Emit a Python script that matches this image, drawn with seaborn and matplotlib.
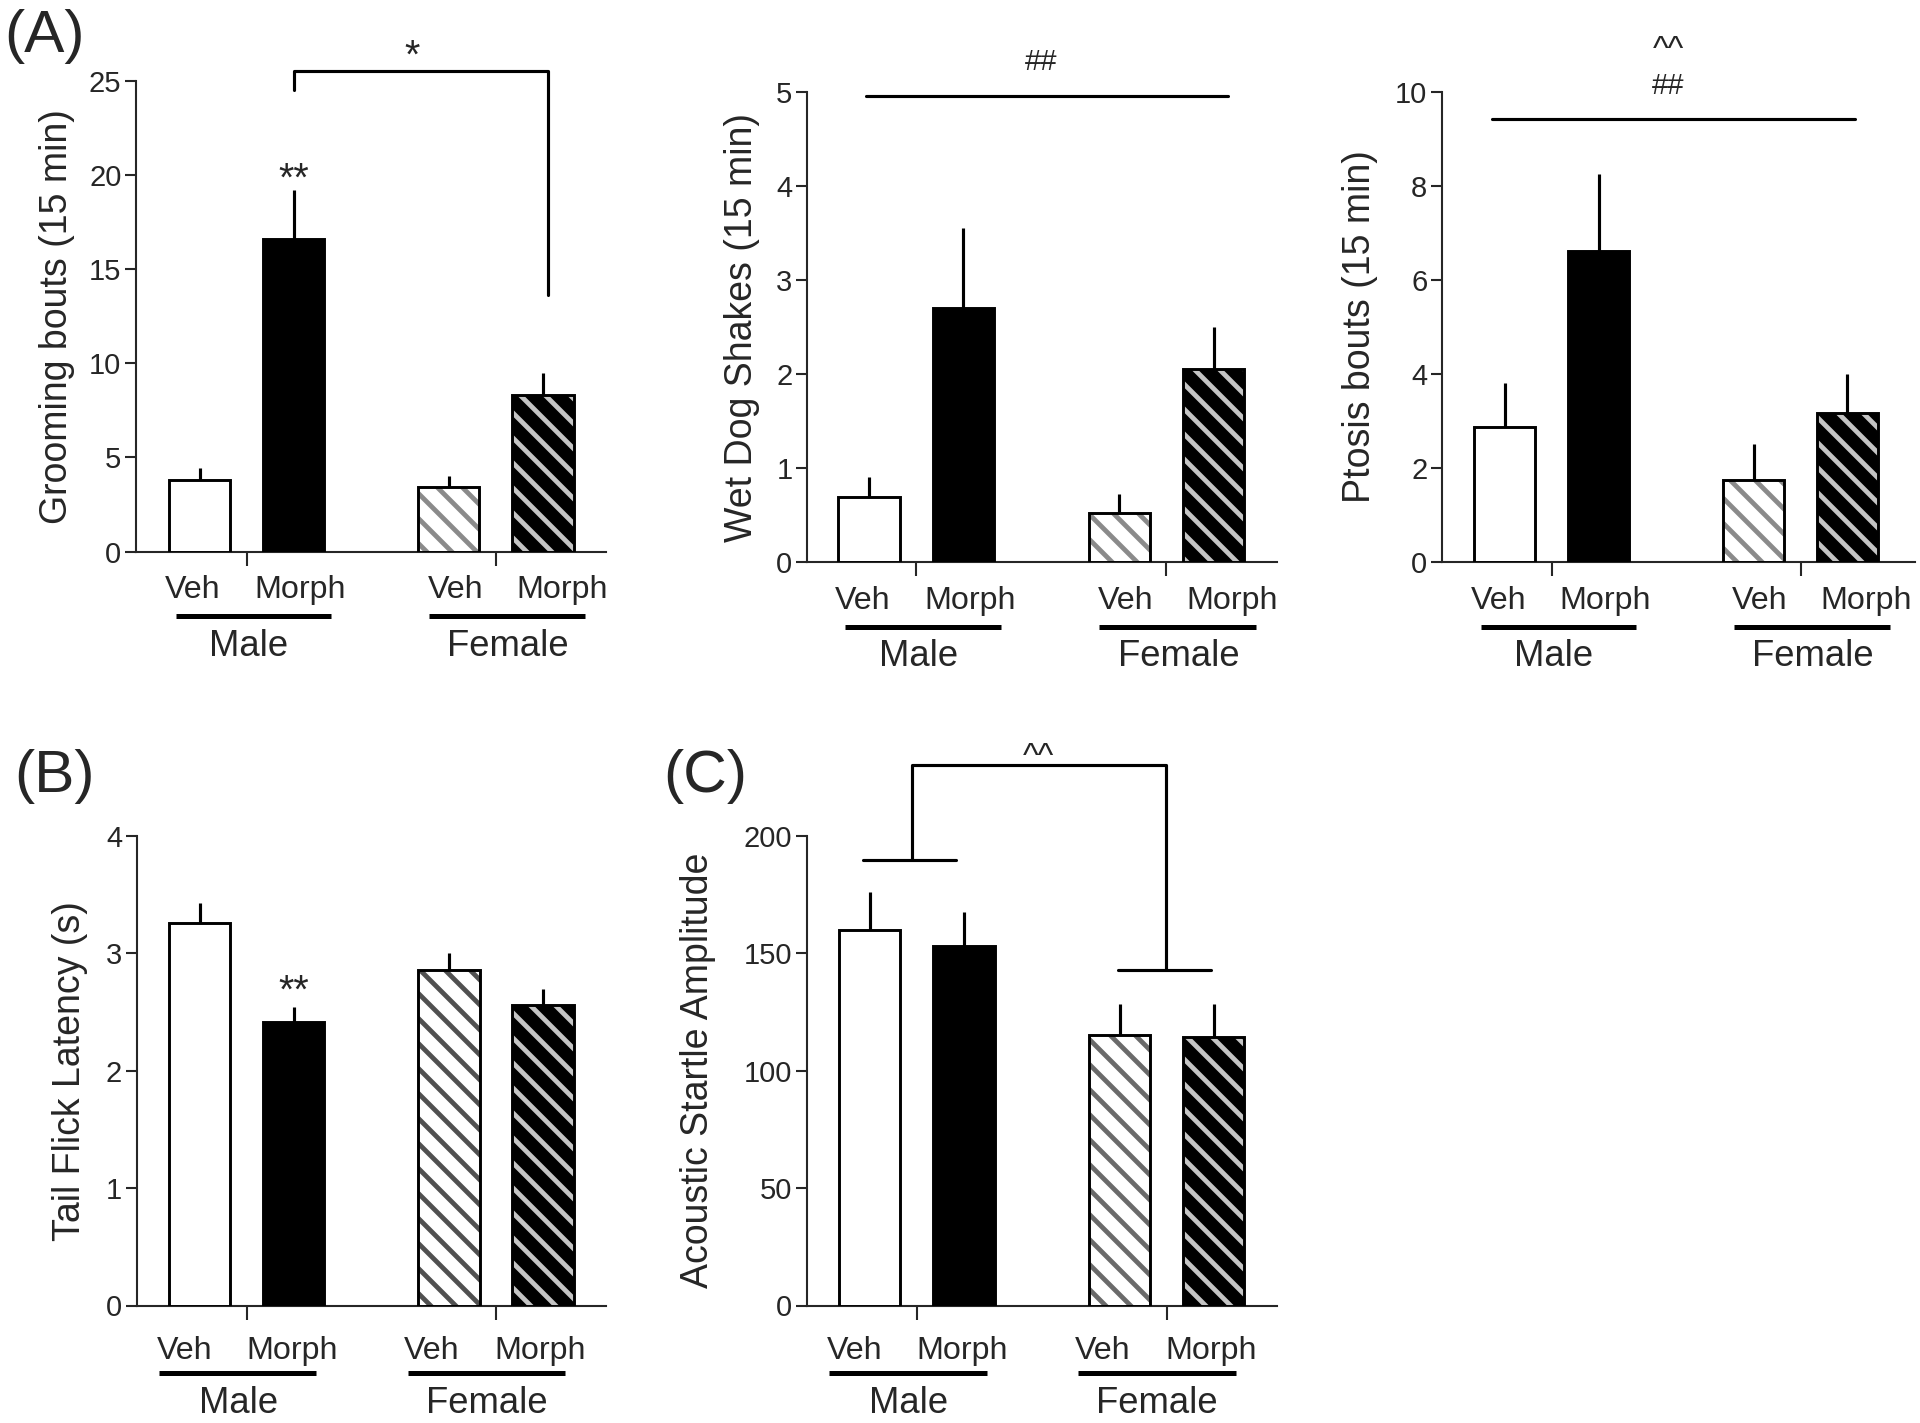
import numpy as np
import pandas as pd
import matplotlib
matplotlib.use("Agg")
import matplotlib.pyplot as plt
import seaborn as sns
from matplotlib.colors import to_rgba
from matplotlib.transforms import offset_copy

sns.set_style("ticks")
plt.rcParams["font.family"] = ["Liberation Sans", "DejaVu Sans"]
plt.rcParams["hatch.linewidth"] = 2.3

# ---------------- data ----------------
sexes = ["Male", "Female"]
treatments = ["Veh", "Morph"]

grooming_mean = [3.80, 16.6, 3.43, 8.30]
grooming_sem = [0.62, 2.60, 0.60, 1.19]

wds_mean = [0.69, 2.70, 0.52, 2.05]
wds_sem = [0.215, 0.85, 0.20, 0.45]

ptosis_mean = [2.88, 6.62, 1.74, 3.18]
ptosis_sem = [0.92, 1.63, 0.78, 0.82]

tailflick_mean = [3.26, 2.41, 2.86, 2.56]
tailflick_sem = [0.17, 0.13, 0.14, 0.135]

startle_mean = [159.9, 152.9, 115.3, 114.5]
startle_sem = [16.0, 14.7, 12.9, 13.7]

grooming_ticks = [0, 5, 10, 15, 20, 25]
wds_ticks = [0, 1, 2, 3, 4, 5]
ptosis_ticks = [0, 2, 4, 6, 8, 10]
tailflick_ticks = [0, 1, 2, 3, 4]
startle_ticks = [0, 50, 100, 150, 200]

# ---------------- layout ----------------
W, H = 1920, 1423
DPI = 150
fig = plt.figure(figsize=(W / DPI, H / DPI), dpi=DPI)

GROUP_GAP = 2.65
BAR_W = 0.65
HATCH = "\\\\"
HATCH_LW = 2.3


def fbox(l, t, r, b):
    return [l / W, 1 - b / H, (r - l) / W, (b - t) / H]


def draw_panel(ax, means, sems, ylabel, yticks, xlim, female_veh_hatch,
               lab_x, line_x, grp_x, offs, ylab_x):
    pos = [gi * GROUP_GAP + ti for gi in range(len(sexes)) for ti in range(len(treatments))]
    cond = [f"{s} {t}" for s in sexes for t in treatments]
    df = pd.DataFrame({"pos": pos, "val": means, "cond": cond})
    sns.barplot(data=df, x="pos", y="val", native_scale=True, width=BAR_W,
                errorbar=None, color="white", edgecolor="black", linewidth=1.4,
                ax=ax, zorder=3)
    patches = sorted(ax.patches, key=lambda p: p.get_x())
    styles = [("white", None), ("black", None),
              ("white", female_veh_hatch), ("black", "#c4c4c4")]
    for p, (fc, hc) in zip(patches, styles):
        p.set_facecolor(fc)
        p.set_edgecolor("black")
        if hc:
            p.set_hatch(HATCH)
            p._hatch_color = to_rgba(hc)
            if hasattr(p, "_hatch_linewidth"):
                p._hatch_linewidth = HATCH_LW
    ax.errorbar(pos, means, yerr=[np.zeros(len(sems)), sems], fmt="none",
                ecolor="black", elinewidth=1.5, capsize=0, zorder=2)

    sns.despine(ax=ax)
    for s in ("left", "bottom"):
        ax.spines[s].set_linewidth(1.0)
    ax.set_xlim(*xlim)
    ax.set_ylim(yticks[0], yticks[-1])
    ax.set_yticks(yticks)
    ax.set_xticks([0.5, GROUP_GAP + 0.5])
    ax.set_xticklabels([])
    ax.tick_params(axis="x", length=6.5, width=1.0, direction="out")
    ax.tick_params(axis="y", length=5.5, width=1.0, pad=1.5, labelsize=14)
    ax.set_xlabel("")
    ax.set_ylabel(ylabel, fontsize=18)
    ax.yaxis.set_label_coords(ylab_x, 0.5)

    trans = ax.get_xaxis_transform()
    t_lab = offset_copy(trans, fig=fig, y=-offs[0], units="points")
    t_line = offset_copy(trans, fig=fig, y=-offs[1], units="points")
    t_grp = offset_copy(trans, fig=fig, y=-offs[2], units="points")
    labels = [t for _ in sexes for t in treatments]
    for x, lab in zip(lab_x, labels):
        ax.text(x, 0, lab, transform=t_lab, ha="center", va="baseline", fontsize=15.5)
    for (x0, x1), g, gx in zip(line_x, sexes, grp_x):
        ax.plot([x0, x1], [0, 0], transform=t_line, color="black", lw=2.4,
                clip_on=False, solid_capstyle="butt")
        ax.text(gx, 0, g, transform=t_grp, ha="center", va="baseline", fontsize=17.5)


A_lab = [-0.07, 1.07, 2.72, 3.85]
A_line = [(-0.25, 1.40), (2.44, 4.10)]
A_grp = [0.52, 3.28]
A_offs = (22.5, 31.0, 50.0)
B_lab = [-0.16, 0.98, 2.47, 3.62]
B_line = [(-0.43, 1.24), (2.21, 3.88)]
B_grp = [0.41, 3.05]
B_offs = (25.6, 32.5, 51.4)

axA1 = fig.add_axes(fbox(136, 81, 606, 551.6))
draw_panel(axA1, grooming_mean, grooming_sem, "Grooming bouts (15 min)", grooming_ticks,
           (-0.675, 4.32), "#8a8a8a", A_lab, A_line, A_grp, A_offs, -0.129)
axA1.plot([1.0, 1.0, 3.70, 3.70], [24.54, 25.55, 25.55, 13.64], color="black", lw=1.5, clip_on=False)
axA1.text(2.26, 25.7, "*", ha="center", va="baseline", fontsize=19)
axA1.text(1.0, 19.17, "**", ha="center", va="baseline", fontsize=19)

axA2 = fig.add_axes(fbox(807, 92, 1277, 562))
draw_panel(axA2, wds_mean, wds_sem, "Wet Dog Shakes (15 min)", wds_ticks,
           (-0.656, 4.32), "#8a8a8a", A_lab, A_line, A_grp, A_offs, -0.099)
axA2.plot([-0.03, 3.80], [4.954, 4.954], color="black", lw=1.5, clip_on=False)
axA2.text(1.82, 5.23, "##", ha="center", va="baseline", fontsize=14)

axA3 = fig.add_axes(fbox(1442, 92, 1915, 562))
draw_panel(axA3, ptosis_mean, ptosis_sem, "Ptosis bouts (15 min)", ptosis_ticks,
           (-0.67, 4.37), "#8a8a8a", A_lab, A_line, A_grp, A_offs, -0.135)
axA3.plot([-0.14, 3.73], [9.42, 9.42], color="black", lw=1.5, clip_on=False)
axA3.text(1.74, 9.95, "##", ha="center", va="baseline", fontsize=14)
axA3.text(1.74, 10.71, "^^", ha="center", va="baseline", fontsize=16)

axB = fig.add_axes(fbox(136.7, 835.7, 606, 1305.5))
draw_panel(axB, tailflick_mean, tailflick_sem, "Tail Flick Latency (s)", tailflick_ticks,
           (-0.67, 4.32), "#505050", B_lab, B_line, B_grp, B_offs, -0.104)
axB.text(1.0, 2.58, "**", ha="center", va="baseline", fontsize=19)

axC = fig.add_axes(fbox(806.5, 835.7, 1277, 1305.5))
draw_panel(axC, startle_mean, startle_sem, "Acoustic Startle Amplitude", startle_ticks,
           (-0.67, 4.32), "#6a6a6a", B_lab, B_line, B_grp, B_offs, -0.193)
axC.plot([-0.07, 0.92], [189.5, 189.5], color="black", lw=1.5, clip_on=False)
axC.plot([2.63, 3.62], [142.7, 142.7], color="black", lw=1.5, clip_on=False)
axC.plot([0.45, 0.45, 3.14, 3.14], [189.5, 230.2, 230.2, 142.7], color="black", lw=1.5, clip_on=False)
axC.text(1.79, 229.5, "^^", ha="center", va="baseline", fontsize=16)

fig.text(45 / W, 1 - 37 / H, "(A)", ha="center", va="center", fontsize=29)
fig.text(55 / W, 1 - 776 / H, "(B)", ha="center", va="center", fontsize=29)
fig.text(705 / W, 1 - 777 / H, "(C)", ha="center", va="center", fontsize=29)

fig.savefig("out.png", dpi=DPI)
